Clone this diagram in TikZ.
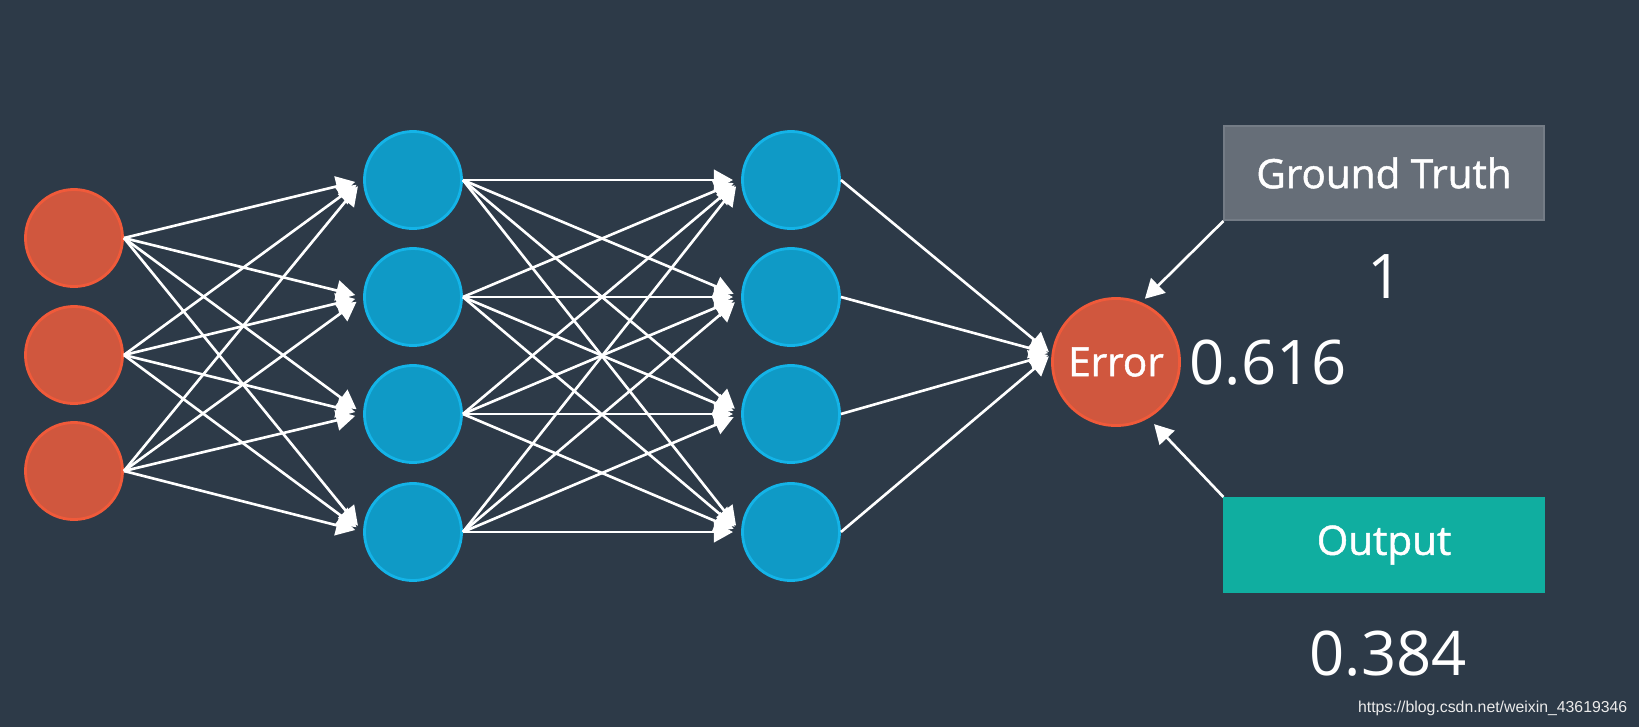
\documentclass[tikz,border=0pt]{standalone}
\usepackage{fontspec}
\setmainfont{Open Sans}
\newfontfamily\labfont[FakeBold=1.2]{Open Sans}
\newfontfamily\wmfont{Liberation Sans}
\usepackage{xcolor}
\usetikzlibrary{arrows.meta}
\definecolor{bgslate}{HTML}{2D3A48}
\definecolor{inred}{HTML}{D0573E}
\definecolor{inredline}{HTML}{F05A3A}
\definecolor{hidblue}{HTML}{0F9AC6}
\definecolor{hidblueline}{HTML}{14B4E8}
\definecolor{gtgray}{HTML}{666E78}
\definecolor{gtgrayline}{HTML}{747C86}
\definecolor{outteal}{HTML}{10AEA0}

\begin{document}
\begin{tikzpicture}[x=0.01cm,y=-0.01cm,>={Triangle[length=5.4pt,width=5.8pt]},
  inp/.style={circle,draw=inredline,fill=inred,line width=0.8pt,minimum size=0.97cm,inner sep=0pt},
  hid/.style={circle,draw=hidblueline,fill=hidblue,line width=0.8pt,minimum size=0.97cm,inner sep=0pt},
  errc/.style={circle,draw=inredline,fill=inred,line width=0.8pt,minimum size=1.27cm,inner sep=0pt,
    text=white,font=\labfont\fontsize{11.5}{13}\selectfont},
  tag/.style={minimum width=3.19cm,minimum height=0.94cm,line width=0.6pt,text=white,
    font=\labfont\fontsize{11.5}{13}\selectfont},
  num/.style={text=white,inner sep=0pt,font=\fontsize{17.5}{20}\selectfont},
  wire/.style={->,white,line width=0.75pt,shorten >=2.3pt}]
  \fill[bgslate] (0,0) rectangle (1639,727);
  % layers
  \node[inp] (in-1) at (74,238) {};  \node[inp] (in-2) at (74,355) {};  \node[inp] (in-3) at (74,471) {};
  \foreach \k/\y in {1/180,2/297,3/414,4/532}{
    \node[hid] (h1-\k) at (413,\y) {};
    \node[hid] (h2-\k) at (791,\y) {};
  }
  \node[errc] (err) at (1116,362) {Error};
  \node[tag,fill=gtgray,draw=gtgrayline] (gt) at (1384,173) {Ground Truth};
  \node[tag,fill=outteal,draw=outteal] (out) at (1384,545) {Output};
  % weights
  \foreach \i in {1,2,3}
    \foreach \j in {1,...,4} \draw[wire] (in-\i.east) -- (h1-\j.west);
  \foreach \i in {1,...,4}
    \foreach \j in {1,...,4} \draw[wire] (h1-\i.east) -- (h2-\j.west);
  \foreach \i in {1,...,4} \draw[wire,shorten >=1pt] (h2-\i.east) -- (err.173);
  \draw[wire,shorten >=1.4pt] (gt.south west) -- (err.67);
  \draw[wire] (out.north west) -- (err.300);
  % values
  \node[num] (gtval) at (1385,277) {1};
  \node[num] (errval) at (1268,363) {0.616};
  \node[num] (outval) at (1388,654) {0.384};
  \node[anchor=east,inner sep=0pt,text=black!8,font=\wmfont\fontsize{4.5}{5}\selectfont] (wm) at (1628,708) {https://blog.csdn.net/weixin\_43619346};
\end{tikzpicture}
\end{document}
